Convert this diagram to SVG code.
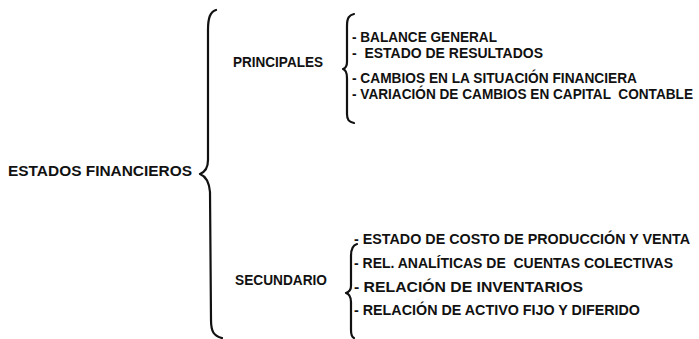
<svg xmlns="http://www.w3.org/2000/svg" width="699" height="339" viewBox="0 0 699 339">
<style>
.t{font-family:"Liberation Sans",Arial,sans-serif;font-weight:bold;font-size:14px;fill:#111;white-space:pre}
.b{fill:none;stroke:#111;stroke-width:2.2;stroke-linecap:round;stroke-linejoin:round}
</style>
<rect width="699" height="339" fill="#fff"/>
<g id="connectors">
<path class="b" d="M216,10 C210,12 208,18 208,30 L208,160 C208,168 205,172 200,174 C205,176 209,180 210,192 L211,320 C211,332 214,336 222,338"/>
<path class="b" d="M354,14 C349,15 347,18 347,26 L347,62 C347,66 346,68 343,69 C346,70 347,73 347,78 L347,114 C347,120 349,122 354,123"/>
<path class="b" d="M357,244 C353,245 351,248 351,256 L351,286 C351,290 349,292 346,293 C349,294 351,297 351,302 L351,330 C351,335 352,337 354,338"/>
</g>
<g id="root"><text class="t" x="8" y="176" textLength="184" lengthAdjust="spacingAndGlyphs" font-size="15">ESTADOS FINANCIEROS</text></g>
<g id="principales"><text class="t" x="233" y="67" textLength="90" lengthAdjust="spacingAndGlyphs">PRINCIPALES</text></g>
<g id="secundario"><text class="t" x="235" y="285" textLength="92" lengthAdjust="spacingAndGlyphs">SECUNDARIO</text></g>
<g id="items-principales">
<text class="t" x="352" y="42" textLength="145" lengthAdjust="spacingAndGlyphs">- BALANCE GENERAL</text>
<text class="t" x="352" y="58" textLength="191" lengthAdjust="spacingAndGlyphs">-  ESTADO DE RESULTADOS</text>
<text class="t" x="352" y="83" textLength="285" lengthAdjust="spacingAndGlyphs">- CAMBIOS EN LA SITUACIÓN FINANCIERA</text>
<text class="t" x="352" y="99" textLength="341" lengthAdjust="spacingAndGlyphs" font-size="13.4">- VARIACIÓN DE CAMBIOS EN CAPITAL  CONTABLE</text>
</g>
<g id="items-secundario">
<text class="t" x="354" y="244" textLength="336" lengthAdjust="spacingAndGlyphs">- ESTADO DE COSTO DE PRODUCCIÓN Y VENTA</text>
<text class="t" x="354" y="268" textLength="319" lengthAdjust="spacingAndGlyphs">- REL. ANALÍTICAS DE  CUENTAS COLECTIVAS</text>
<text class="t" x="354" y="292" textLength="229" lengthAdjust="spacingAndGlyphs">- RELACIÓN DE INVENTARIOS</text>
<text class="t" x="354" y="315" textLength="286" lengthAdjust="spacingAndGlyphs">- RELACIÓN DE ACTIVO FIJO Y DIFERIDO</text>
</g>
</svg>
